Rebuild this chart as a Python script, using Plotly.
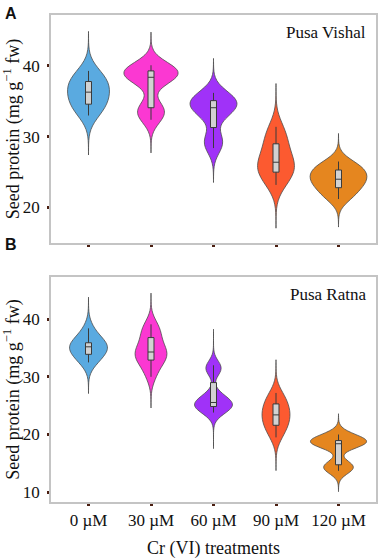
import plotly.graph_objects as go

categories = ["0 µM", "30 µM", "60 µM", "90 µM", "120 µM"]

# Panel A (Pusa Vishal) – seed protein samples per treatment
vishal_0 = [33.0, 33.8, 34.4, 34.8, 35.5, 36.0, 36.6, 37.1, 37.6, 38.0, 38.6, 39.3]
vishal_30 = [32.4, 33.2, 33.8, 34.4, 37.8, 38.2, 38.6, 38.9, 39.2, 39.4, 39.7, 40.1]
vishal_60 = [28.4, 29.2, 29.9, 32.7, 33.6, 33.9, 34.3, 34.7, 35.0, 35.2, 35.7, 36.2]
vishal_90 = [23.2, 24.0, 24.7, 25.3, 25.8, 26.2, 26.6, 27.4, 28.6, 29.4, 30.4, 31.4]
vishal_120 = [21.2, 21.8, 22.5, 23.1, 23.6, 23.8, 24.2, 24.8, 25.1, 25.5, 25.9, 26.5]

# Panel B (Pusa Ratna)
ratna_0 = [32.5, 33.0, 33.6, 34.2, 34.7, 35.0, 35.4, 35.7, 35.8, 36.0, 37.2, 38.4]
ratna_30 = [30.0, 31.6, 32.6, 33.2, 33.8, 34.1, 34.5, 35.2, 36.3, 37.3, 38.2, 39.1]
ratna_60 = [23.8, 24.3, 24.7, 25.0, 25.2, 25.4, 25.7, 26.3, 27.0, 31.0, 31.5, 32.0]
ratna_90 = [19.5, 20.6, 21.3, 21.9, 22.7, 23.2, 23.6, 24.2, 25.0, 25.6, 26.3, 27.2]
ratna_120 = [13.7, 14.1, 14.5, 15.0, 18.0, 18.3, 18.5, 18.7, 18.8, 19.1, 19.5, 20.0]

vishal = [vishal_0, vishal_30, vishal_60, vishal_90, vishal_120]
ratna = [ratna_0, ratna_30, ratna_60, ratna_90, ratna_120]

# styles
colors = ["#5aaae0", "#fb38d2", "#a032f8", "#fc5a30", "#e5861f"]
bw_a = [1.55, 1.3, 1.35, 1.7, 1.1]
bw_b = [1.5, 1.5, 1.2, 1.6, 1.0]
ext_a = [3.6, 3.6, 3.6, 3.6, 3.6]
ext_b = [3.6, 3.6, 5.2, 3.6, 3.6]
px_per_unit = 62.7
vw_a = [42, 54, 47, 37, 57]
vw_b = [38, 32, 38, 28, 56]
box_px = 6

fig = go.Figure()


def add_panel(data, bws, exts, widths_px, xa, ya):
    for cat, vals, col, bw, k, wpx in zip(categories, data, colors, bws, exts, widths_px):
        lo = min(vals) - k * bw
        hi = max(vals) + k * bw
        fig.add_trace(go.Violin(
            x=[cat] * len(vals), y=vals,
            xaxis=xa, yaxis=ya,
            fillcolor=col, opacity=1,
            line=dict(color="#4d4d4d", width=0.8),
            bandwidth=bw, spanmode="manual", span=[lo, hi],
            width=wpx / px_per_unit, scalemode="width",
            points=False,
            box=dict(visible=True, width=box_px / wpx, fillcolor="#d2d2d2",
                     line=dict(color="#3a3a3a", width=1)),
            meanline=dict(visible=False),
            showlegend=False, hoverinfo="skip",
        ))


add_panel(vishal, bw_a, ext_a, vw_a, "x", "y")
add_panel(ratna, bw_b, ext_b, vw_b, "x2", "y2")

serif = "Liberation Serif, Times New Roman, serif"
frame = "#c4c4c4"
tick_col = "#4a1e10"

xcommon = dict(type="category", categoryorder="array", categoryarray=categories,
               range=[-0.6, 4.6], showline=True, mirror=True, linecolor=frame,
               linewidth=1.5, ticks="outside", ticklen=2, tickwidth=3,
               tickcolor=tick_col, showgrid=False, zeroline=False,
               automargin=False,
               tickfont=dict(family=serif, size=17, color="#111"))
ycommon = dict(showline=True, mirror=True, linecolor=frame, linewidth=1.5,
               ticks="outside", ticklen=2, tickwidth=3, tickcolor=tick_col,
               showgrid=False, zeroline=False, ticklabelstandoff=4,
               automargin=False,
               tickfont=dict(family=serif, size=17, color="#111"),
               title=dict(text="Seed protein (mg g<sup>−1</sup> fw)",
                          font=dict(family=serif, size=18, color="#111"),
                          standoff=2))

fig.update_layout(
    width=383, height=559,
    margin=dict(l=51, r=7, t=15, b=57),
    paper_bgcolor="white", plot_bgcolor="white",
    violinmode="overlay",
    xaxis=dict(xcommon, domain=[0, 1], anchor="y", showticklabels=False),
    yaxis=dict(ycommon, domain=[0.532, 1], anchor="x", range=[15.0, 47.2],
               tickvals=[20, 30, 40]),
    xaxis2=dict(xcommon, domain=[0, 1], anchor="y2",
                title=dict(text="Cr (VI) treatments",
                           font=dict(family=serif, size=18, color="#111"),
                           standoff=12)),
    yaxis2=dict(ycommon, domain=[0, 0.462], anchor="x2", range=[8.3, 47.3],
                tickvals=[10, 20, 30, 40]),
    annotations=[
        dict(text="Pusa Vishal", xref="x domain", yref="y domain", x=0.975, y=0.975,
             xanchor="right", yanchor="top", showarrow=False,
             font=dict(family=serif, size=17, color="#111")),
        dict(text="Pusa Ratna", xref="x2 domain", yref="y2 domain", x=0.975, y=0.975,
             xanchor="right", yanchor="top", showarrow=False,
             font=dict(family=serif, size=17, color="#111")),
        dict(text="<b>A</b>", xref="paper", yref="paper", x=-0.148, y=1.025,
             xanchor="left", yanchor="top", showarrow=False,
             font=dict(family="Liberation Sans, Arial, sans-serif", size=16, color="#111")),
        dict(text="<b>B</b>", xref="paper", yref="paper", x=-0.148, y=0.55,
             xanchor="left", yanchor="top", showarrow=False,
             font=dict(family="Liberation Sans, Arial, sans-serif", size=16, color="#111")),
    ],
)

fig.write_html("out.html", config={"displayModeBar": False},
               post_script="document.body.style.margin='0';document.body.style.overflow='hidden';")
